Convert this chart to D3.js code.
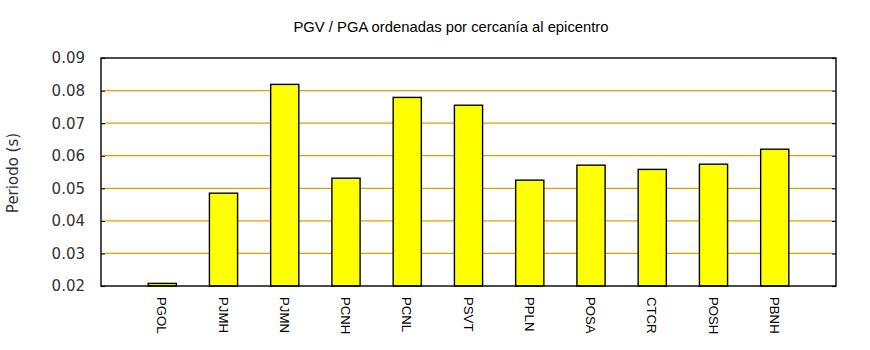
<!DOCTYPE html>
<html>
<head>
<meta charset="utf-8">
<script src="https://cdn.jsdelivr.net/npm/d3@7"></script>
<style>
  html, body { margin: 0; padding: 0; background: #fff; }
  svg { display: block; }
</style>
</head>
<body>
<svg id="chart" width="870" height="350"></svg>
<script>
// Stations, ordered by distance to the epicentre
const stations = ["PGOL", "PJMH", "PJMN", "PCNH", "PCNL", "PSVT", "PPLN", "POSA", "CTCR", "POSH", "PBNH"];
// Period (s) for each station
const periods = [0.0208, 0.0485, 0.0819, 0.0531, 0.0779, 0.0755, 0.0525, 0.0571, 0.0558, 0.0574, 0.0620];
// Y-axis ticks
const yTicks = [0.02, 0.03, 0.04, 0.05, 0.06, 0.07, 0.08, 0.09];

const titleText = "PGV / PGA ordenadas por cercanía al epicentro";
const yTitleText = "Periodo (s)";

const svg = d3.select("#chart");
const plot = { left: 101, right: 836, top: 58, bottom: 286 };

// Category positions 1..n inside a 0..n+1 range
const x = d3.scaleLinear().domain([0, stations.length + 1]).range([plot.left, plot.right]);
const y = d3.scaleLinear().domain([0.02, 0.09]).range([plot.bottom, plot.top]);
const barW = (x(1) - x(0)) * 0.46;

// Horizontal grid lines
svg.append("g")
  .selectAll("line")
  .data(yTicks.filter(t => t > 0.02 && t < 0.09))
  .join("line")
  .attr("x1", plot.left + 4)
  .attr("x2", plot.right - 4)
  .attr("y1", d => y(d))
  .attr("y2", d => y(d))
  .attr("stroke", "#e0a000")
  .attr("stroke-width", 1.2);

// Y axis: tick marks inside the frame on both sides, labels on the left
const yAxisLeft = d3.axisRight(y).tickValues(yTicks).tickSize(4).tickFormat("");
svg.append("g").attr("transform", `translate(${plot.left},0)`).call(yAxisLeft)
  .call(g => g.select(".domain").remove())
  .call(g => g.selectAll("line").attr("stroke", "#000").attr("stroke-width", 1.2));
const yAxisRight = d3.axisLeft(y).tickValues(yTicks).tickSize(4).tickFormat("");
svg.append("g").attr("transform", `translate(${plot.right},0)`).call(yAxisRight)
  .call(g => g.select(".domain").remove())
  .call(g => g.selectAll("line").attr("stroke", "#000").attr("stroke-width", 1.2));

svg.append("g")
  .selectAll("text")
  .data(yTicks)
  .join("text")
  .attr("x", 85)
  .attr("y", d => y(d))
  .attr("dy", "0.36em")
  .attr("text-anchor", "end")
  .attr("font-family", "DejaVu Sans, sans-serif")
  .attr("font-size", 15)
  .attr("fill", "#333")
  .text(d => d3.format(".2f")(d));

// Bars
svg.append("g")
  .selectAll("rect")
  .data(periods)
  .join("rect")
  .attr("x", (d, i) => x(i + 1) - barW / 2)
  .attr("width", barW)
  .attr("y", d => y(d))
  .attr("height", d => y(0.02) - y(d))
  .attr("fill", "#ffff00")
  .attr("stroke", "#000")
  .attr("stroke-width", 1.4);

// Plot frame
svg.append("rect")
  .attr("x", plot.left)
  .attr("y", plot.top)
  .attr("width", plot.right - plot.left)
  .attr("height", plot.bottom - plot.top)
  .attr("fill", "none")
  .attr("stroke", "#000")
  .attr("stroke-width", 1.4);

// Station labels, rotated to read downward
svg.append("g")
  .selectAll("text")
  .data(stations)
  .join("text")
  .attr("transform", (d, i) => `translate(${x(i + 1) - 5},297) rotate(90) scale(1.1,1)`)
  .attr("text-anchor", "start")
  .attr("font-family", "Liberation Sans, Arial, sans-serif")
  .attr("font-size", 12)
  .attr("fill", "#000")
  .text(d => d);

// Titles
svg.append("text")
  .attr("x", 451)
  .attr("y", 32)
  .attr("text-anchor", "middle")
  .attr("font-family", "Liberation Sans, Arial, sans-serif")
  .attr("font-size", 14.8)
  .attr("fill", "#000")
  .text(titleText);

svg.append("text")
  .attr("transform", "translate(18,173) rotate(-90)")
  .attr("text-anchor", "middle")
  .attr("font-family", "DejaVu Sans, sans-serif")
  .attr("font-size", 15)
  .attr("fill", "#333")
  .text(yTitleText);
</script>
</body>
</html>
